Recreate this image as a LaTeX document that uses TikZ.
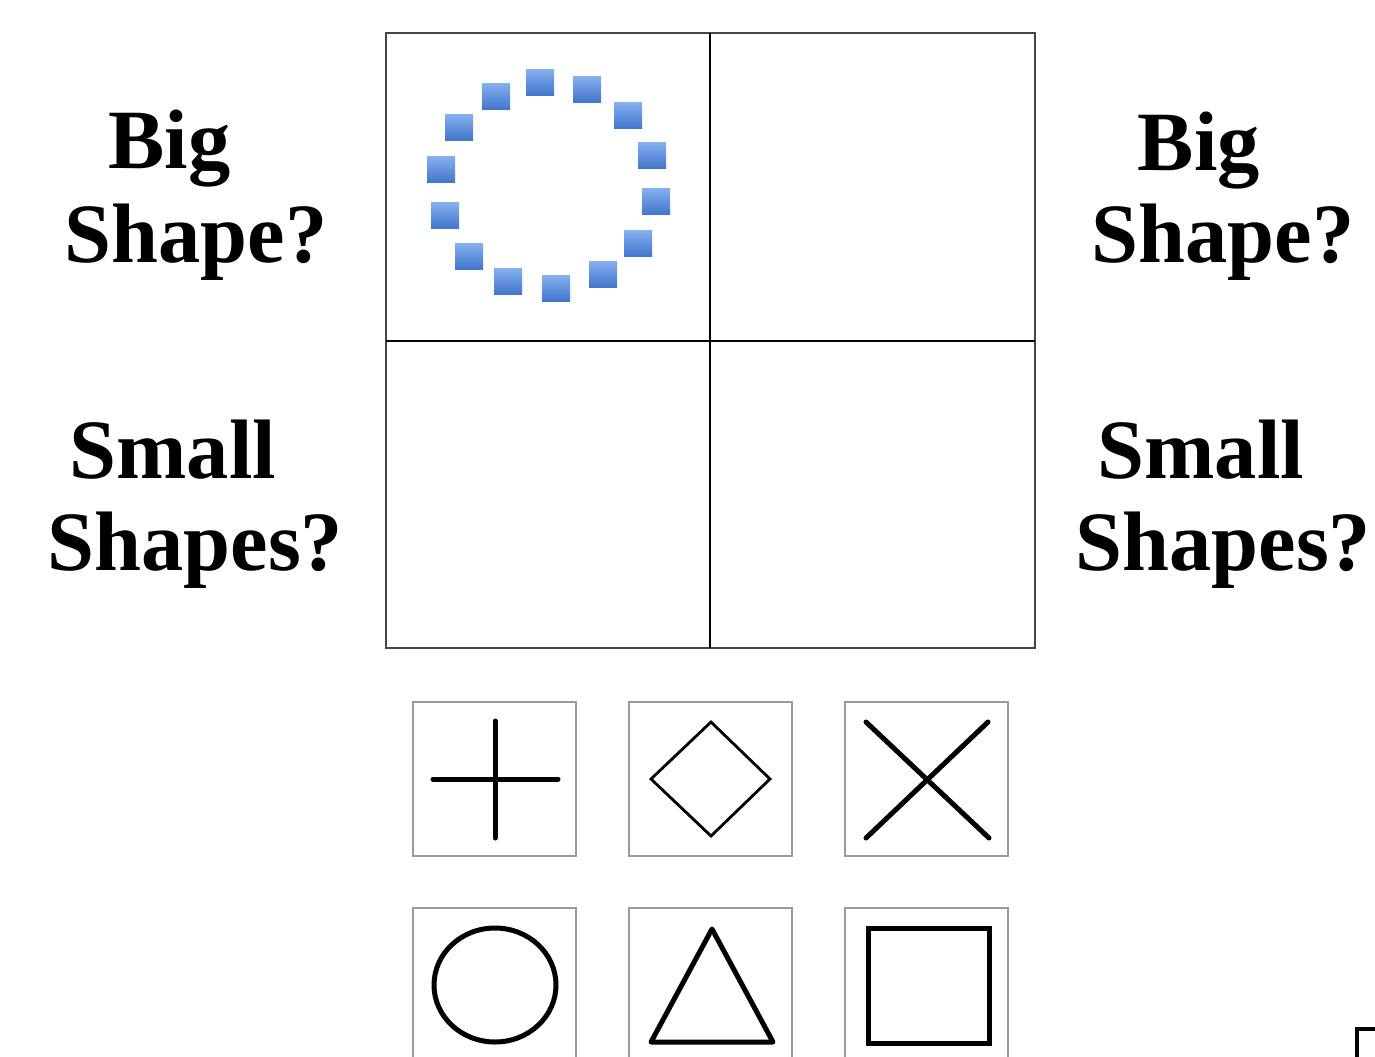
\documentclass[tikz,border=0pt]{standalone}
\usepackage{fontspec}
\setmainfont{Liberation Serif}
\definecolor{bluetop}{HTML}{86B0EE}
\definecolor{bluebot}{HTML}{4277CC}
\definecolor{boxgray}{HTML}{9A9A9A}
\definecolor{gridgray}{HTML}{444444}
\tikzset{
  lbl/.style={anchor=base west, inner sep=0pt, font=\fontsize{24}{28}\selectfont\bfseries},
  cell/.style={draw=boxgray, line width=2.6pt*0.2845},
  glyph/.style={draw=black, line width=5*0.2845pt, line cap=round, line join=round},
  thinglyph/.style={draw=black, line width=2.8*0.2845pt, line join=miter},
  gridline/.style={draw=black, line width=2.6*0.2845pt},
}
\begin{document}
\begin{tikzpicture}[x=0.01cm, y=-0.01cm]
\useasboundingbox (0,0) rectangle (1375,1057);
% labels
\node[lbl] (bigL) at (108,168) {Big};
\node[lbl] (shapeL) at (64,262) {Shape?};
\node[lbl] (smallL) at (69,478) {Small};
\node[lbl] (shapesL) at (47,570) {Shapes?};
\node[lbl] (bigR) at (1137,170) {Big};
\node[lbl] (shapeR) at (1091,262) {Shape?};
\node[lbl] (smallR) at (1097,478) {Small};
\node[lbl] (shapesR) at (1075,570) {Shapes?};
% grid
\draw[draw=gridgray, line width=2.2*0.2845pt] (386,33) rectangle (1035,648);
\draw[gridline] (710,33) -- (710,648);
\draw[gridline] (386,341) -- (1035,341);
% blue squares circle
\foreach \cx/\cy in {540/82, 587/89, 628/115, 652/155, 656/201, 638/243, 603/274, 556/288, 508/281, 469/256, 445/215, 441/169, 459/127, 496/96}{
  \shade[top color=bluetop, bottom color=bluebot] (\cx-14,\cy-13) rectangle (\cx+14,\cy+13);
}
% bottom boxes row 1
\draw[cell] (413,702) rectangle (576,856);
\draw[cell] (629,702) rectangle (792,856);
\draw[cell] (845,702) rectangle (1008,856);
% row 2
\draw[cell] (413,1062) -- (413,908) -- (576,908) -- (576,1062);
\draw[cell] (629,1062) -- (629,908) -- (792,908) -- (792,1062);
\draw[cell] (845,1062) -- (845,908) -- (1008,908) -- (1008,1062);
% plus
\draw[glyph] (495,721) -- (495,838);
\draw[glyph] (433,779) -- (558,779);
% diamond
\draw[thinglyph] (711,722) -- (770,779) -- (711,836) -- (651,779) -- cycle;
% X
\draw[glyph] (866,722) -- (989,838);
\draw[glyph] (988,722) -- (866,838);
% circle
\draw[glyph] (495,985) ellipse [x radius=61, y radius=57];
% triangle
\draw[glyph] (712,929) -- (773,1042) -- (651,1042) -- cycle;
% square
\draw[glyph, line cap=butt, line join=miter] (868,928) rectangle (989,1043);
% corner artifact
\draw[draw=black, line width=3.5*0.2845pt] (1357,1062) -- (1357,1029) -- (1380,1029);
\end{tikzpicture}
\end{document}
